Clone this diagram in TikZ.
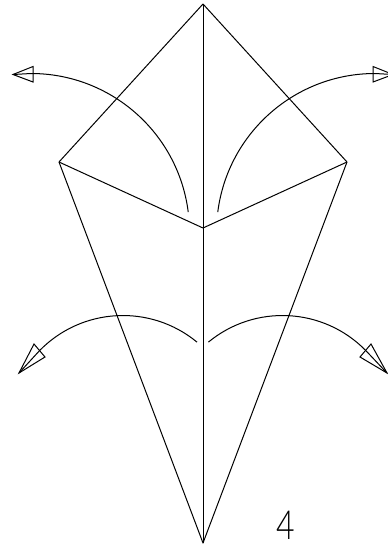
\documentclass[tikz,border=0pt]{standalone}
\usepackage{fontspec}
\newfontfamily\labelfont{Lato Light}
\tikzset{
  fold/.style={draw=black,line width=1pt,line join=round},
  swing/.style={draw=black,line width=1pt},
  head/.style={draw=black,line width=1pt,line join=miter}
}
\begin{document}
\begin{tikzpicture}[x=1pt,y=-1pt]
\useasboundingbox (0,0) rectangle (388,549);
\clip (0,0) rectangle (388,549);
\coordinate (T) at (203,4);
\coordinate (L) at (59,162);
\coordinate (R) at (347,162);
\coordinate (M) at (203,228);
\coordinate (B) at (203,543);
\draw[fold] (T) -- (L) -- (B) -- (R) -- cycle;
\draw[fold] (L) -- (M) -- (R);
\draw[fold] (T) -- (B);
% upper arcs (y axis points down, so angles run clockwise on the page)
\draw[swing] (31,232) ++(-7.2:158.5) arc[start angle=-7.2,end angle=-90,radius=158.5] -- (13,74.5);
\draw[swing] (375,232) ++(-172.8:158.5) arc[start angle=-172.8,end angle=-90,radius=158.5] -- (393,74.5);
\draw[head] (13,74.5) -- (33,66.5) -- (33,82) -- cycle;
\draw[head] (393,74.5) -- (373,66.5) -- (373,82) -- cycle;
% lower arcs
\draw[swing] (122.9,432) ++(-50.5:116.5) arc[start angle=-50.5,end angle=-135.7,radius=116.5] -- (19,373);
\draw[swing] (282.5,432) ++(-129.5:116.5) arc[start angle=-129.5,end angle=-44.3,radius=116.5] -- (387,373);
\draw[head] (19,373) -- (34,344) -- (45,357) -- cycle;
\draw[head] (387,373) -- (371,344) -- (360,357) -- cycle;
\node[inner sep=0pt,anchor=base,xscale=0.8,font=\labelfont\fontsize{40}{40}\selectfont] (n) at (286,539.5) {4};
\end{tikzpicture}
\end{document}
